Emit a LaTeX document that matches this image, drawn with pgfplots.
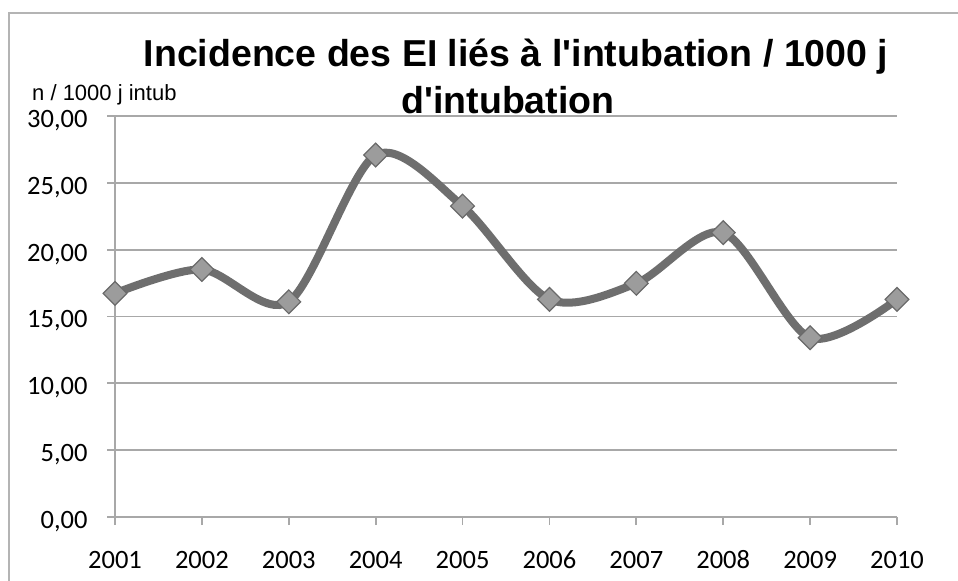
\documentclass[border=0pt]{standalone}
\usepackage{pgfplots}
\pgfplotsset{compat=1.18}
\usepackage{fontspec}
\setmainfont{Carlito}
\newfontfamily\arialfont{Liberation Sans}
\definecolor{gridc}{HTML}{A8A8A8}
\definecolor{linec}{HTML}{6E6E6E}
\definecolor{markf}{HTML}{9C9C9C}
\definecolor{markd}{HTML}{6A6A6A}
\definecolor{framec}{HTML}{B4B4B4}
\begin{document}
\begin{tikzpicture}
\useasboundingbox (0,0) rectangle (958bp,581bp);
\draw[framec, line width=2bp] (9bp,0) -- (9bp,568bp) -- (958bp,568bp);
\node[anchor=base, font=\arialfont\bfseries\fontsize{37.5bp}{44bp}\selectfont] at (516bp,514bp) {Incidence des EI liés à l'intubation / 1000 j};
\node[anchor=base, font=\arialfont\bfseries\fontsize{37.5bp}{44bp}\selectfont] at (508bp,467bp) {d'intubation};
\node[anchor=base west, inner sep=0pt, font=\arialfont\fontsize{22bp}{26bp}\selectfont] at (32bp,480bp) {n / 1000 j intub};
\begin{axis}[
  at={(115bp,64bp)}, anchor=south west, scale only axis,
  width=782bp, height=401bp,
  xmin=1, xmax=10, ymin=0, ymax=30,
  clip=false,
  axis x line=bottom, axis y line=left,
  axis line style={gridc, line width=1.8bp, -},
  xtick={1,2,3,4,5,6,7,8,9,10},
  xticklabels={2001,2002,2003,2004,2005,2006,2007,2008,2009,2010},
  ytick={0,5,10,15,20,25,30},
  ymajorgrids, major grid style={gridc, line width=1.8bp},
  tick align=outside, major tick length=8bp,
  tick style={gridc, line width=1.8bp},
  tick label style={font=\fontsize{26.5bp}{30bp}\selectfont, text=black},
  xticklabel style={text height=17bp, text depth=0bp, yshift=-23bp},
  yticklabel style={xshift=-16bp, yshift=-4.5bp, /pgf/number format/.cd, fixed, fixed zerofill, precision=2, use comma, assume math mode=true},
]
\addplot[linec, line width=8bp, smooth, tension=0.5,
  mark=square*, mark size=8.4bp,
  mark options={rotate=45, fill=markf, draw=markd, line width=1.2bp}]
  coordinates {(1,16.73) (2,18.52) (3,16.10) (4,27.08) (5,23.26) (6,16.28) (7,17.48) (8,21.27) (9,13.41) (10,16.28)};
\end{axis}
\end{tikzpicture}
\end{document}
